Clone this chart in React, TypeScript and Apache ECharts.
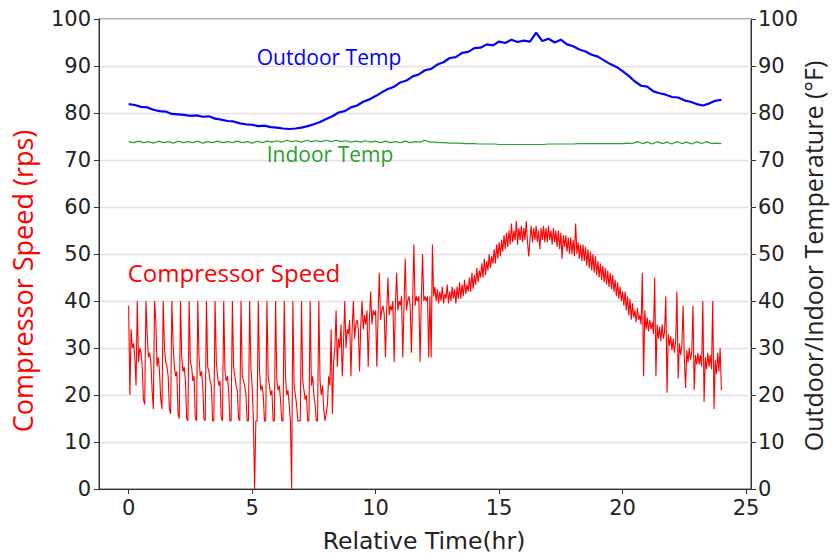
import React, { useEffect, useRef } from "react";
import * as echarts from "echarts";

// Compressor speed (rps), sampled every 0.05 hr from t = 0 to 24 hr
const compressorStep = 0.05;
const compressorSpeed = [
  // t 0.00 - 8.00 : on/off cycling
  39, 20, 34, 30, 31, 28, 22,
  40, 27, 30, 29, 26, 19, 18,
  40, 33, 28, 29, 27, 21, 17,
  40, 36, 26, 28, 25, 19, 17,
  40, 30, 27, 26, 24, 17, 16,
  40, 31, 26, 24, 25, 16, 15,
  40, 28, 25, 26, 23, 15, 14.5,
  40, 27, 26, 23, 24, 15, 14.5,
  40, 28, 24, 25, 22, 15, 14.5,
  40, 26, 25, 23, 22, 14.5, 14.5,
  40, 27, 24, 22, 23, 15, 14.5,
  40, 25, 23, 24, 21, 14.5, 14.5,
  40, 26, 24, 22, 21, 15, 14.5,
  40, 24, 23, 22, 20, 14.5, 14.5,
  40, 26, 22, 15, 0, 14.5, 14.5,
  40, 25, 21, 22, 20, 14.5, 14.5,
  40, 24, 22, 20, 21, 14.5, 14.5,
  40, 23, 21, 22, 19, 14.5, 14.5,
  40, 24, 20, 21, 18, 14.5, 0,
  40, 22, 20, 18, 14.5, 14.5, 14.5,
  40, 23, 21, 19, 20, 14.5, 14.5,
  40, 22, 24, 20, 18, 14.5, 14.5,
  40, 23, 20, 22, 17, 14.5, 16,
  // t 8.05 - 12.20 : rising
  18, 24, 22, 34, 16, 27, 30,
  38, 26, 32, 30, 35, 24, 31,
  40, 30, 34, 33, 36, 24, 34,
  40, 32, 35, 36, 34, 25, 35,
  40, 34, 37, 35, 38, 26, 36,
  42, 35, 38, 37, 38, 26, 37,
  46, 36, 38, 39, 37, 28, 38,
  45, 37, 39, 38, 40, 27, 39,
  46, 38, 40, 39, 41, 28, 39,
  49, 38, 40, 41, 39, 29, 40,
  52, 39, 41, 40, 41, 27, 40,
  50, 40, 41, 40, 41, 28, 41,
  // t 12.25 - 12.35
  28, 52, 41,
  // t 12.40 - 20.00 : continuous modulation
  43, 40, 42.5, 39.5, 42, 40, 43, 39.5, 41.5, 40.5,
  43.5, 39.5, 42, 40, 43, 40.5, 42.5, 39.5, 43, 40.5,
  44, 40.5, 43.5, 41, 44.5, 41.5, 43.5, 42, 45, 42,
  46, 42.5, 45.5, 43.5, 47, 44, 46.5, 45, 48, 45,
  49, 45.5, 48.5, 46.5, 50, 47, 49.5, 48, 51, 48,
  52, 49, 52.5, 49.5, 53, 50.5, 54, 51, 54.5, 51.5,
  55, 52, 56.5, 52.5, 55, 53, 57, 52, 55.5, 53,
  56, 52.5, 55.5, 53, 57, 52.5, 49.5, 53, 56, 52.5,
  55.5, 53, 56, 52.5, 55, 51, 55.5, 53, 56, 52.5,
  55.5, 52.5, 56, 53, 55, 52, 55.5, 52.5, 55, 51.5,
  55, 51, 54.5, 49, 54, 51.5, 54, 50.5, 53.5, 50,
  53.5, 50, 53, 49.5, 56.5, 50, 52.5, 49, 52, 48.5,
  52, 48.5, 51.5, 47.5, 51, 47, 50.5, 46.5, 50, 46,
  49.5, 45.5, 48.5, 45, 48, 44.5, 47.5, 44, 47, 43.5,
  46.5, 43, 46, 42.5, 45.5, 42, 44.5, 41, 44, 40.5,
  43, 40, 42,
  // t 20.05 - 24.00 : falling, cycling again
  39, 42, 38, 41, 37, 40.5, 36, 39.5, 36.5, 38,
  35.5, 38.5, 36, 37, 35, 46, 24, 38, 34, 36.5,
  33.5, 36, 34, 35.5, 33, 45, 24, 35, 32, 34.5,
  31.5, 35, 32, 33.5, 41, 20.5, 33, 30.5, 32.5, 29.5,
  32, 29, 31.5, 42, 23.5, 31, 28.5, 30.5, 39, 28,
  21.5, 29.5, 27, 30, 27.5, 29, 39, 21, 28.5, 26.5,
  29, 26.5, 28.5, 26, 40, 18.5, 28, 25.5, 29, 26,
  28.5, 25.5, 40, 17, 27.5, 24.5, 29, 25, 30, 21,
];

// Outdoor temperature (°F), every 0.25 hr
const outdoorStep = 0.25;
const outdoorTemp = [
  81.9, 81.7, 81.3, 81.2, 80.7, 80.4, 80.3, 79.8,
  79.7, 79.6, 79.4, 79.5, 79.2, 79.3, 78.8, 78.6,
  78.3, 78.2, 77.8, 77.6, 77.5, 77.2, 77.3, 77.0,
  76.9, 76.7, 76.6, 76.7, 76.9, 77.2, 77.6, 78.1,
  78.7, 79.3, 80.1, 80.4, 81.2, 81.6, 82.4, 82.9,
  83.6, 84.4, 85.1, 85.6, 86.5, 86.9, 87.8, 88.2,
  89.1, 89.4, 90.3, 90.8, 91.7, 91.9, 92.8, 93.0,
  93.8, 93.9, 94.6, 94.4, 95.2, 94.9, 95.6, 95.1,
  95.4, 95.2, 97.1, 95.3, 95.8, 95.0, 95.6, 94.6,
  94.2, 93.5, 93.1, 92.4, 92.0, 91.2, 90.4, 89.8,
  88.9, 87.9, 86.7, 85.8, 85.6, 84.6, 84.2, 83.9,
  83.4, 83.3, 82.7, 82.4, 81.9, 81.6, 82.0, 82.6,
  82.8,
];

// Indoor temperature (°F), every 0.2 hr
const indoorStep = 0.2;
const indoorTemp = [
  73.9, 73.7, 74.0, 73.7, 73.9, 73.6, 74.0, 73.7, 73.9, 73.6, 74.0, 73.7, 73.9, 73.7, 74.0, 73.6, 73.9, 73.7, 74.0, 73.7, 73.9,
  73.7, 74.0, 73.7, 73.9, 73.6, 74.0, 73.7, 74.0, 73.8, 74.1, 73.8, 74.2, 73.9, 74.1, 73.8, 74.2, 73.9, 74.1, 73.9, 74.2,
  73.9, 74.2, 73.9, 74.1, 73.8, 74.0, 73.8, 74.1, 73.8, 74.0, 73.7, 74.0, 73.7, 73.9, 73.7, 74.0, 73.7, 73.9, 73.8, 74.2,
  73.8, 73.8, 73.7, 73.7, 73.6, 73.6, 73.6, 73.5, 73.5, 73.5, 73.4, 73.4, 73.4, 73.4, 73.3, 73.3, 73.3, 73.3, 73.3, 73.3,
  73.3, 73.3, 73.3, 73.3, 73.4, 73.4, 73.4, 73.4, 73.4, 73.4, 73.5, 73.5, 73.5, 73.5, 73.5, 73.5, 73.5, 73.5, 73.5, 73.5,
  73.6, 73.5, 73.9, 73.5, 73.8, 73.4, 73.9, 73.5, 73.8, 73.4, 73.9, 73.5, 73.8, 73.4, 73.9, 73.5, 73.9, 73.5, 73.6, 73.5,
];

const xTicks = [0, 5, 10, 15, 20, 25];

const toPairs = (vals: number[], step: number) =>
  vals.map((v, i) => [+(i * step).toFixed(3), v]);

export default function App() {
  const ref = useRef<HTMLDivElement>(null);
  useEffect(() => {
    const chart = echarts.init(ref.current!, null, { renderer: "svg" });
    const tickFont = { fontFamily: "DejaVu Sans", fontSize: 21, color: "#222" };
    const labelFont = "Open Sans";
    chart.setOption({
      animation: false,
      backgroundColor: "#fff",
      grid: {
        left: 99,
        right: 82,
        top: 19,
        bottom: 65,
        show: true,
        borderColor: "#333",
        borderWidth: 1,
        backgroundColor: "transparent",
      },
      xAxis: {
        type: "value",
        min: -1.2,
        max: 25.2,
        splitLine: { show: false },
        axisLine: { show: true, onZero: false, lineStyle: { color: "#333", width: 1 } },
        axisTick: { show: true, length: 5, customValues: xTicks, lineStyle: { color: "#333" } },
        axisLabel: { ...tickFont, margin: 8, customValues: xTicks },
      },
      yAxis: [
        {
          type: "value",
          min: 0,
          max: 100,
          interval: 10,
          position: "left",
          splitLine: { show: true, lineStyle: { color: "#e2e2e2", width: 1.3 } },
          axisLine: { show: true, onZero: false, lineStyle: { color: "#333", width: 1 } },
          axisTick: { show: true, length: 5, lineStyle: { color: "#333" } },
          axisLabel: { ...tickFont, margin: 8 },
        },
        {
          type: "value",
          min: 0,
          max: 100,
          interval: 10,
          position: "right",
          splitLine: { show: false },
          axisLine: { show: true, onZero: false, lineStyle: { color: "#333", width: 1 } },
          axisTick: { show: true, length: 5, lineStyle: { color: "#333" } },
          axisLabel: { ...tickFont, margin: 7 },
        },
      ],
      series: [
        {
          name: "Compressor Speed",
          type: "line",
          yAxisIndex: 0,
          showSymbol: false,
          data: toPairs(compressorSpeed, compressorStep),
          lineStyle: { color: "#ff0000", width: 1.1 },
          itemStyle: { color: "#ff0000" },
        },
        {
          name: "Outdoor Temp",
          type: "line",
          yAxisIndex: 1,
          showSymbol: false,
          data: toPairs(outdoorTemp, outdoorStep),
          lineStyle: { color: "#0000ff", width: 2.2 },
          itemStyle: { color: "#0000ff" },
        },
        {
          name: "Indoor Temp",
          type: "line",
          yAxisIndex: 1,
          showSymbol: false,
          data: toPairs(indoorTemp, indoorStep),
          lineStyle: { color: "#2ca02c", width: 1.2 },
          itemStyle: { color: "#2ca02c" },
        },
      ],
      graphic: [
        {
          type: "text",
          x: 329,
          y: 57,
          z: 100,
          style: { text: "Outdoor Temp", fill: "#0000ff", font: `21px '${labelFont}'`, textAlign: "center", textVerticalAlign: "middle" },
        },
        {
          type: "text",
          x: 330,
          y: 154,
          z: 100,
          style: { text: "Indoor Temp", fill: "#2ca02c", font: `21px '${labelFont}'`, textAlign: "center", textVerticalAlign: "middle" },
        },
        {
          type: "text",
          x: 234,
          y: 272,
          z: 100,
          style: { text: "Compressor Speed", fill: "#ff0000", font: `24px '${labelFont}'`, textAlign: "center", textVerticalAlign: "middle" },
        },
        {
          type: "text",
          x: 22,
          y: 281,
          rotation: Math.PI / 2,
          z: 100,
          style: { text: "Compressor Speed (rps)", fill: "#ff0000", font: `27px '${labelFont}'`, textAlign: "center", textVerticalAlign: "middle" },
        },
        {
          type: "text",
          x: 813,
          y: 256,
          rotation: Math.PI / 2,
          z: 100,
          style: { text: "Outdoor/Indoor Temperature (°F)", fill: "#222", font: `25px '${labelFont}'`, textAlign: "center", textVerticalAlign: "middle" },
        },
        {
          type: "text",
          x: 424,
          y: 541,
          z: 100,
          style: { text: "Relative Time(hr)", fill: "#222", font: `23.5px 'DejaVu Sans'`, textAlign: "center", textVerticalAlign: "middle" },
        },
      ],
    });
    return () => chart.dispose();
  }, []);
  return (
    <div
      ref={ref}
      style={{ position: "fixed", left: 0, top: 0, width: 833, height: 554 }}
    />
  );
}
